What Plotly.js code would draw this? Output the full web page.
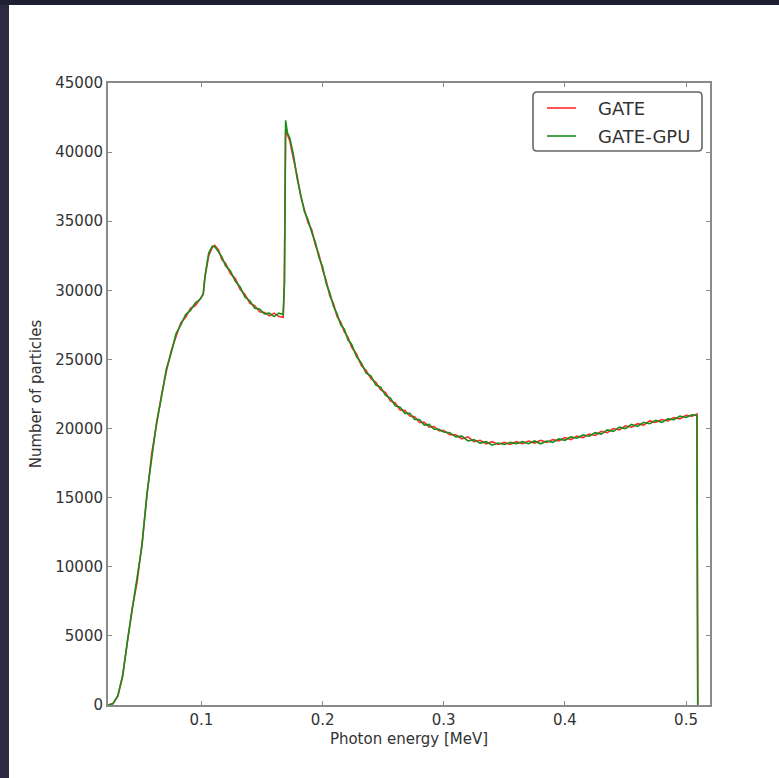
<!DOCTYPE html>
<html>
<head>
<meta charset="utf-8">
<script src="https://cdn.plot.ly/plotly-3.0.1.min.js"></script>
<style>
  html, body { margin: 0; padding: 0; background: #ffffff; }
  #chart { width: 779px; height: 778px; }
</style>
</head>
<body>
<div id="chart"></div>
<script>
// Photon energy [MeV] (bin positions)
const energy = [
  0.023,0.027,0.031,0.035,0.039,0.043,0.047,0.051,0.055,0.059,
  0.063,0.067,0.071,0.075,0.079,0.083,0.087,0.091,0.095,0.099,
  0.1015,0.103,0.106,0.109,0.111,0.114,0.117,0.120,0.124,0.128,
  0.132,0.136,0.140,0.144,0.148,0.152,0.156,0.160,0.164,0.1675,
  0.1685,0.1695,0.171,0.173,0.176,0.179,0.182,0.185,0.188,0.191,
  0.194,0.197,0.200,0.203,0.206,0.209,0.212,0.215,0.218,0.221,
  0.224,0.228,0.232,0.236,0.240,0.244,0.248,0.252,0.256,0.260,
  0.264,0.268,0.272,0.276,0.280,0.284,0.288,0.292,0.296,0.300,
  0.305,0.310,0.315,0.320,0.325,0.330,0.335,0.340,0.345,0.350,
  0.355,0.360,0.365,0.370,0.375,0.380,0.385,0.390,0.395,0.400,
  0.405,0.410,0.415,0.420,0.425,0.430,0.435,0.440,0.445,0.450,
  0.455,0.460,0.465,0.470,0.475,0.480,0.485,0.490,0.495,0.500,
  0.505,0.509,0.5097
];

// Number of particles, GATE
const gate = [
  0,110,640,2150,4600,7050,8950,11700,15100,18200,
  20300,22400,24100,25600,26650,27650,28050,28700,28900,29450,
  29700,31000,32500,33100,33250,32950,32200,31950,31200,30850,
  30050,29700,29050,28900,28450,28400,28150,28350,28100,28050,
  30600,41600,41200,40800,39500,38300,36800,35900,34900,34400,
  33300,32600,31500,30700,29600,29050,28100,27700,27000,26600,
  25900,25400,24550,24200,23600,23350,22800,22600,22000,21850,
  21350,21300,20900,20850,20450,20450,20100,20150,19850,19850,
  19550,19550,19250,19400,19050,19150,18900,19050,18850,19000,
  18850,19050,18900,19100,18950,19150,19000,19200,19100,19350,
  19200,19450,19350,19600,19500,19800,19700,20000,19900,20200,
  20100,20350,20250,20550,20450,20650,20550,20800,20700,20950,
  20900,21050,0
];

// Number of particles, GATE-GPU
const gateGpu = [
  0,90,660,2080,4700,6950,9050,11550,15250,18050,
  20450,22250,24300,25450,26850,27500,28250,28550,29100,29350,
  29750,31050,32700,33200,33150,32800,32400,31750,31400,30650,
  30250,29500,29250,28700,28650,28300,28350,28100,28350,28250,
  30400,42300,41400,41000,39800,38100,37000,35700,35100,34200,
  33500,32400,31700,30500,29800,28850,28300,27500,27200,26400,
  26100,25200,24750,24000,23800,23150,23000,22400,22200,21650,
  21550,21100,21100,20650,20650,20250,20300,19950,19950,19750,
  19700,19400,19450,19100,19200,18950,19050,18800,18950,18850,
  19000,18900,19050,18900,19100,18900,19100,19000,19250,19150,
  19400,19300,19550,19450,19700,19600,19900,19800,20100,20000,
  20300,20150,20450,20350,20600,20450,20700,20650,20900,20800,
  21000,20950,0
];

const seriesNames = ['GATE', 'GATE-GPU'];
const seriesColors = ['#ff2a2a', '#1a8c1a'];
const xTickVals = [0.1, 0.2, 0.3, 0.4, 0.5];
const xTickText = ['0.1', '0.2', '0.3', '0.4', '0.5'];
const yTickVals = [0,5000,10000,15000,20000,25000,30000,35000,40000,45000];
const yTickText = ['0','5000','10000','15000','20000','25000','30000','35000','40000','45000'];

const FONT = 'DejaVu Sans, Liberation Sans, sans-serif';
const AXIS = '#8a8a8a';
const TXT = '#333333';

const traces = [
  { x: energy, y: gate, name: seriesNames[0], type: 'scatter', mode: 'lines',
    line: { color: seriesColors[0], width: 1.6 } },
  { x: energy, y: gateGpu, name: seriesNames[1], type: 'scatter', mode: 'lines',
    line: { color: seriesColors[1], width: 1.6 } }
];

// pixel -> paper helpers for decorative frame and legend box
const L = 108, R = 69, T = 83, B = 73, W = 779, H = 778;
const pw = W - L - R, ph = H - T - B;
const px = v => (v - L) / pw;
const py = v => (H - B - v) / ph;

const dark = '#2b2a42';
const shapes = [
  { type: 'rect', xref: 'paper', yref: 'paper', x0: px(0), x1: px(9), y0: py(778), y1: py(0),
    fillcolor: dark, line: { width: 0 }, layer: 'above' },
  { type: 'rect', xref: 'paper', yref: 'paper', x0: px(0), x1: px(779), y0: py(5), y1: py(0),
    fillcolor: '#1f1f33', line: { width: 0 }, layer: 'above' },
  // rounded legend frame
  { type: 'path', xref: 'paper', yref: 'paper',
    path: (function () {
      const x0 = 533, x1 = 702, y0 = 92, y1 = 151, r = 4;
      const P = (a, b) => px(a) + ',' + py(b);
      return 'M' + P(x0 + r, y0) + ' L' + P(x1 - r, y0) + ' Q' + P(x1, y0) + ' ' + P(x1, y0 + r) +
        ' L' + P(x1, y1 - r) + ' Q' + P(x1, y1) + ' ' + P(x1 - r, y1) +
        ' L' + P(x0 + r, y1) + ' Q' + P(x0, y1) + ' ' + P(x0, y1 - r) +
        ' L' + P(x0, y0 + r) + ' Q' + P(x0, y0) + ' ' + P(x0 + r, y0) + ' Z';
    })(),
    line: { color: '#666666', width: 1.6 }, fillcolor: 'rgba(0,0,0,0)', layer: 'above' }
];

// legend entries (line sample + label) inside the rounded frame
const legendRows = [108, 136];
const annotations = [];
seriesNames.forEach((nm, i) => {
  shapes.push({ type: 'line', xref: 'paper', yref: 'paper',
    x0: px(547), x1: px(576), y0: py(legendRows[i]), y1: py(legendRows[i]),
    line: { color: seriesColors[i], width: 1.6 }, layer: 'above' });
  annotations.push({ xref: 'paper', yref: 'paper', x: px(596), y: py(legendRows[i]),
    xanchor: 'left', yanchor: 'middle', showarrow: false, text: nm,
    font: { family: FONT, size: 18, color: TXT } });
});

const layout = {
  width: W, height: H,
  margin: { l: L, r: R, t: T, b: B },
  paper_bgcolor: '#ffffff',
  plot_bgcolor: '#ffffff',
  showlegend: false,
  xaxis: {
    range: [0.0229, 0.5198],
    tickvals: xTickVals, ticktext: xTickText,
    ticks: 'inside', ticklen: 4, tickwidth: 1, tickcolor: AXIS,
    showline: true, linecolor: AXIS, linewidth: 2, mirror: 'ticks',
    showgrid: false, zeroline: false,
    tickfont: { family: FONT, size: 15, color: TXT },
    title: { text: 'Photon energy [MeV]', font: { family: FONT, size: 15, color: TXT }, standoff: 5 }
  },
  yaxis: {
    range: [0, 45000],
    tickvals: yTickVals, ticktext: yTickText,
    ticks: 'inside', ticklen: 4, tickwidth: 1, tickcolor: AXIS,
    showline: true, linecolor: AXIS, linewidth: 2, mirror: 'ticks',
    showgrid: false, zeroline: false,
    tickfont: { family: FONT, size: 15, color: TXT },
    title: { text: 'Number of particles', font: { family: FONT, size: 15, color: TXT }, standoff: 10 }
  },
  shapes: shapes,
  annotations: annotations
};

Plotly.newPlot('chart', traces, layout, { displayModeBar: false, staticPlot: true });
</script>
</body>
</html>
